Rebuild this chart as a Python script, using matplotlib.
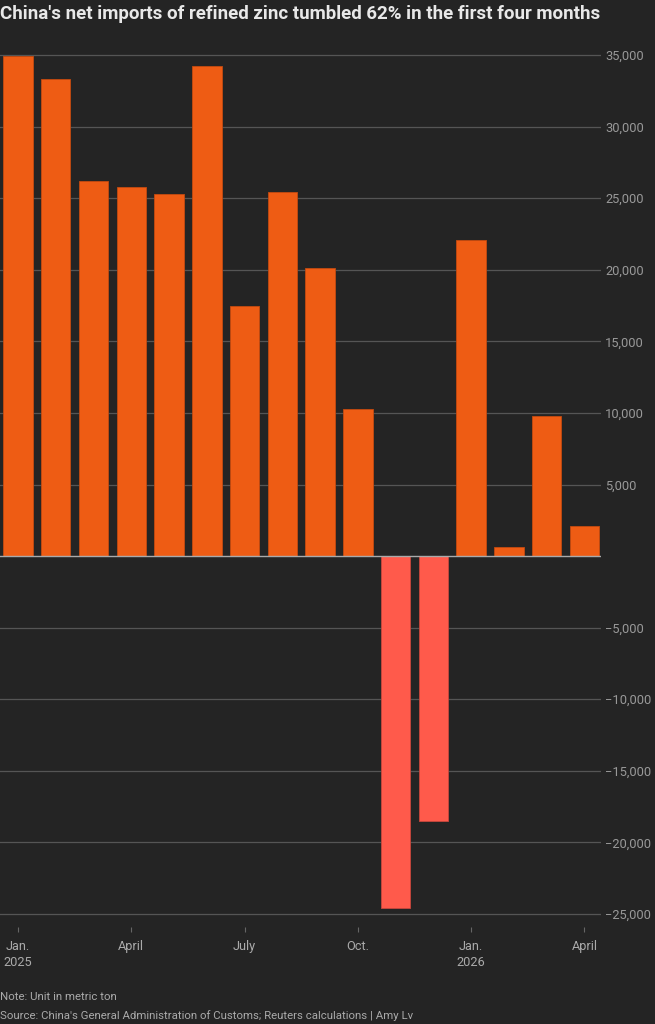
import matplotlib
matplotlib.use("Agg")
import matplotlib.pyplot as plt
from matplotlib.ticker import FuncFormatter

# ---- data ----
months = ["Jan 2025", "Feb 2025", "Mar 2025", "Apr 2025", "May 2025", "Jun 2025",
          "Jul 2025", "Aug 2025", "Sep 2025", "Oct 2025", "Nov 2025", "Dec 2025",
          "Jan 2026", "Feb 2026", "Mar 2026", "Apr 2026"]
net_imports = [34900, 33300, 26200, 25800, 25300, 34200, 17500, 25400,
               20100, 10300, -24600, -18500, 22100, 650, 9800, 2100]
tick_positions = [0, 3, 6, 9, 12, 15]
tick_labels = ["Jan.\n2025", "April", "July", "Oct.", "Jan.\n2026", "April"]
y_ticks = [-25000, -20000, -15000, -10000, -5000, 5000, 10000, 15000,
           20000, 25000, 30000, 35000]

BG = "#242424"
POS = "#EE5C14"
NEG = "#FF5A4B"
plt.rcParams['font.family'] = ['Roboto', 'DejaVu Sans']

W, H = 655, 1024
fig = plt.figure(figsize=(W / 100, H / 100), dpi=100, facecolor=BG)
top_px, bot_px = 50.7, 926.9
ax = fig.add_axes([0, 1 - bot_px / H, 601 / W, (bot_px - top_px) / H], facecolor=BG)

x = list(range(len(months)))
colors = [POS if v >= 0 else NEG for v in net_imports]
edges = ["#C44A10" if v >= 0 else "#C9473C" for v in net_imports]
ax.bar(x, net_imports, width=0.78, color=colors, edgecolor=edges, linewidth=0.6, zorder=3)

ax.set_xlim(-0.477, 15.44)
ax.set_ylim(-25900, 35300)

for s in ax.spines.values():
    s.set_visible(False)

ax.set_yticks(y_ticks)
ax.yaxis.tick_right()
ax.yaxis.set_major_formatter(FuncFormatter(lambda v, p: f"{int(v):,}".replace("-", "\u2212")))
ax.tick_params(axis='y', length=0, pad=3, labelsize=9.3, labelcolor="#999999")
ax.grid(axis='y', color="#555555", linewidth=0.9, zorder=0)
ax.axhline(0, color="#aaaaaa", linewidth=1.0, zorder=4)

ax.set_xticks(tick_positions)
ax.set_xticklabels(tick_labels, linespacing=1.25)
ax.tick_params(axis='x', length=3.5, width=0.8, color="#666666", pad=6,
               labelsize=9.2, labelcolor="#aaaaaa", direction='out')

fig.text(0.0, 1 - 14 / H, "China's net imports of refined zinc tumbled 62% in the first four months",
         fontsize=13.5, fontweight='bold', color="#e8e8e8", ha='left', va='center')
fig.text(0.0, 1 - 997 / H, "Note: Unit in metric ton", fontsize=8.2, color="#aaaaaa",
         ha='left', va='center')
fig.text(0.0, 1 - 1016 / H,
         "Source: China's General Administration of Customs; Reuters calculations | Amy Lv",
         fontsize=8.2, color="#aaaaaa", ha='left', va='center')

fig.savefig("out.png", dpi=100, facecolor=BG)
